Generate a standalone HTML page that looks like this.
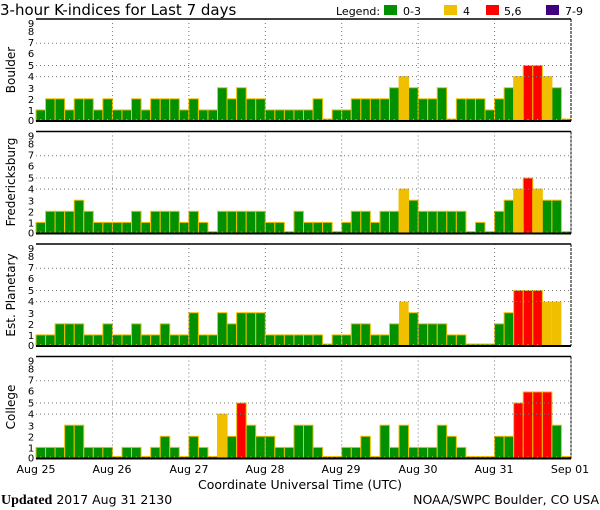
<!DOCTYPE html>
<html><head><meta charset="utf-8"><style>
html,body{margin:0;padding:0;background:#fff;}
svg{display:block;font-family:"DejaVu Sans","Liberation Sans",sans-serif;}
</style></head><body>
<svg id="s" width="600" height="510" viewBox="0 0 600 510" xmlns="http://www.w3.org/2000/svg">
<rect width="600" height="510" fill="#fff"/>
<text x="0" y="15" font-size="15" fill="#000">3-hour K-indices for Last 7 days</text>
<text x="336" y="15" font-size="11">Legend:</text>
<rect x="384" y="5" width="13" height="10" fill="#009000"/><text x="403" y="15" font-size="11">0-3</text>
<rect x="444" y="5" width="13" height="10" fill="#f0c000"/><text x="463" y="15" font-size="11">4</text>
<rect x="486" y="5" width="13" height="10" fill="#ff0000"/><text x="504" y="15" font-size="11">5,6</text>
<rect x="546" y="5" width="13" height="10" fill="#400080"/><text x="565" y="15" font-size="11">7-9</text>
<g id="bars"></g>
<g font-size="10" text-anchor="middle" id="ylab">
<g transform="translate(0,0)"><text x="31" y="124">0</text><text x="31" y="114">1</text><text x="31" y="103">2</text><text x="31" y="92">3</text><text x="31" y="80">4</text><text x="31" y="69">5</text><text x="31" y="57">6</text><text x="31" y="46">7</text><text x="31" y="35">8</text><text x="31" y="27">9</text></g>
<g transform="translate(0,112.5)"><text x="31" y="124">0</text><text x="31" y="114">1</text><text x="31" y="103">2</text><text x="31" y="92">3</text><text x="31" y="80">4</text><text x="31" y="69">5</text><text x="31" y="57">6</text><text x="31" y="46">7</text><text x="31" y="35">8</text><text x="31" y="27">9</text></g>
<g transform="translate(0,225)"><text x="31" y="124">0</text><text x="31" y="114">1</text><text x="31" y="103">2</text><text x="31" y="92">3</text><text x="31" y="80">4</text><text x="31" y="69">5</text><text x="31" y="57">6</text><text x="31" y="46">7</text><text x="31" y="35">8</text><text x="31" y="27">9</text></g>
<g transform="translate(0,337.5)"><text x="31" y="124">0</text><text x="31" y="114">1</text><text x="31" y="103">2</text><text x="31" y="92">3</text><text x="31" y="80">4</text><text x="31" y="69">5</text><text x="31" y="57">6</text><text x="31" y="46">7</text><text x="31" y="35">8</text><text x="31" y="27">9</text></g>
</g>
<g font-size="12" text-anchor="middle">
<text transform="translate(15,70) rotate(-90)">Boulder</text>
<text transform="translate(15,182) rotate(-90)">Fredericksburg</text>
<text transform="translate(15,295) rotate(-90)">Est. Planetary</text>
<text transform="translate(15,407) rotate(-90)">College</text>
</g>
<g font-size="11" text-anchor="middle">
<text x="36" y="473">Aug 25</text><text x="112" y="473">Aug 26</text><text x="189" y="473">Aug 27</text><text x="265" y="473">Aug 28</text><text x="341" y="473">Aug 29</text><text x="418" y="473">Aug 30</text><text x="494" y="473">Aug 31</text><text x="570" y="473">Sep 01</text>
</g>
<text x="300" y="489" font-size="12.5" text-anchor="middle">Coordinate Universal Time (UTC)</text>
<text x="1" y="504" font-size="12.5"><tspan font-family="Liberation Serif,serif" font-weight="bold" font-size="14">Updated</tspan> 2017 Aug 31 2130</text>
<text x="599" y="504" font-size="12.5" text-anchor="end">NOAA/SWPC Boulder, CO USA</text>
</svg>
<script>
var D=[
[1,2,2,1,2,2,1,2,1,1,2,1,2,2,2,1,2,1,1,3,2,3,2,2,1,1,1,1,1,2,0,1,1,2,2,2,2,3,4,3,2,2,3,0,2,2,2,1,2,3,4,5,5,4,3,0],
[1,2,2,2,3,2,1,1,1,1,2,1,2,2,2,1,2,1,0,2,2,2,2,2,1,1,0,2,1,1,1,0,1,2,2,1,2,2,4,3,2,2,2,2,2,0,1,0,2,3,4,5,4,3,3,0],
[1,1,2,2,2,1,1,2,1,1,2,1,1,2,1,1,3,1,1,3,2,3,3,3,1,1,1,1,1,1,0,1,1,2,2,1,1,2,4,3,2,2,2,1,1,0,0,0,2,3,5,5,5,4,4,-1],
[1,1,1,3,3,1,1,1,0,1,1,0,1,2,1,0,2,1,0,4,2,5,3,2,2,1,1,3,3,1,0,0,1,1,2,0,3,1,3,1,1,1,3,2,1,0,0,0,2,2,5,6,6,6,3,0]];
var tops=[19,131.5,244,356.5],H=102,L=36,R=571,W=(R-L)/56,U=11.1,h='';
function col(k){return k<=3?'#009000':k==4?'#f0c000':k<=6?'#ff0000':'#400080';}
for(var p=0;p<4;p++){var t=tops[p],b=t+H;
 for(var i=0;i<56;i++){var k=D[p][i];if(k<0)continue;var bh=k==0?2:k*U;var x=L+i*W;
  h+='<rect x="'+x.toFixed(2)+'" y="'+(b-bh).toFixed(2)+'" width="'+W.toFixed(2)+'" height="'+bh.toFixed(2)+'" fill="'+col(k)+'" stroke="'+(p==2&&k==4?'none':'#f0c000')+'" stroke-width="1"/>';
  h+='<rect x="'+(x+W/2-0.5).toFixed(2)+'" y="'+(b-2)+'" width="1" height="2" fill="#f0c000"/>';}
 [4,5,7].forEach(function(k){var y=b-k*U;h+='<line x1="'+L+'" x2="'+R+'" y1="'+y+'" y2="'+y+'" stroke="#777" stroke-dasharray="1,3"/>';});
 for(var d=1;d<7;d++){var x=L+d*8*W;h+='<line x1="'+x+'" x2="'+x+'" y1="'+t+'" y2="'+b+'" stroke="#777" stroke-dasharray="1,3"/>';}
 h+='<line x1="'+L+'" x2="'+R+'" y1="'+t+'" y2="'+t+'" stroke="#000" stroke-width="1.5"/>';
 h+='<line x1="'+L+'" x2="'+R+'" y1="'+b+'" y2="'+b+'" stroke="#000" stroke-width="2"/>';
 h+='<line x1="'+R+'" x2="'+R+'" y1="'+t+'" y2="'+b+'" stroke="#000" stroke-dasharray="3,1"/>';}
document.getElementById('bars').innerHTML=h;
</script>
</body></html>
